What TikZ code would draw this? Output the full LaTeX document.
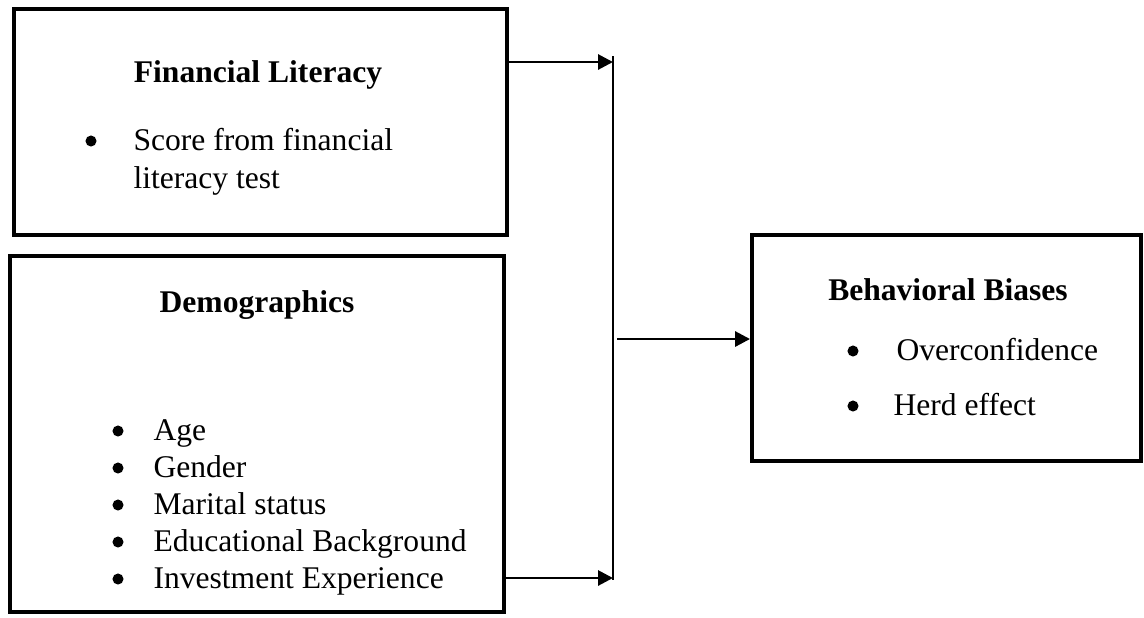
\documentclass[tikz,border=0pt]{standalone}
\usepackage{fontspec}
\setmainfont{Liberation Serif}
\usetikzlibrary{arrows.meta}

\begin{document}
\begin{tikzpicture}[x=0.38pt,y=-0.38pt,
		box/.style={draw,line width=1.5pt,inner sep=0pt},
		title/.style={anchor=base,font=\fontsize{12}{14.4}\selectfont\bfseries,inner sep=0pt},
		item/.style={anchor=base west,font=\fontsize{12}{14.4}\selectfont,inner sep=0pt},
		dot/.style={circle,fill,inner sep=0pt,minimum size=4.2pt},
		arr/.style={line width=1.1pt,-{Triangle[length=5.7pt,width=5.7pt]}}]
			\useasboundingbox (0,0) rectangle (1144,617);
			% boxes
			\node[box,minimum width=187.3pt,minimum height=85.9pt] (fl) at (260.5,122) {};
			\node[box,minimum width=187.7pt,minimum height=135.3pt] (demo) at (257,434) {};
			\node[box,minimum width=147.8pt,minimum height=85.9pt] (bb) at (946.5,348) {};
			% Financial Literacy
			\node[title] (fltitle) at (258,82) {Financial Literacy};
			\node[dot] (fldot) at (91,141) {};
			\node[item] (flscore) at (133,150) {Score from financial};
			\node[item] (fltest) at (133,188) {literacy test};
			% Demographics
			\node[title] (demotitle) at (257,312) {Demographics};
			\foreach \y/\txt [count=\i] in {440/Age,477/Gender,514/Marital status,551/Educational Background,588/Investment Experience}{
				\node[dot] (demodot\i) at (118,\y-9) {};
				\node[item] (demoitem\i) at (153,\y) {\txt};
			}
			% Behavioral Biases
			\node[title] (bbtitle) at (948,300) {Behavioral Biases};
			\node[dot] (bbdot1) at (853,351) {};
			\node[item] (bbitem1) at (896,360) {Overconfidence};
			\node[dot] (bbdot2) at (853,406) {};
			\node[item] (bbitem2) at (893,415) {Herd effect};
			% connectors
			\coordinate (vtop) at (613,56);
			\coordinate (vbot) at (613,580);
			\coordinate (jtop) at (613,62);
			\coordinate (jbot) at (613,578);
			\coordinate (jmid) at (617,339);
			\draw[line width=0.75pt] (vtop) -- (vbot);
			\draw[arr] (fl.east |- jtop) -- (jtop);
			\draw[arr] (demo.east |- jbot) -- (jbot);
			\draw[arr] (jmid) -- (jmid -| bb.west);
		\end{tikzpicture}
\end{document}
